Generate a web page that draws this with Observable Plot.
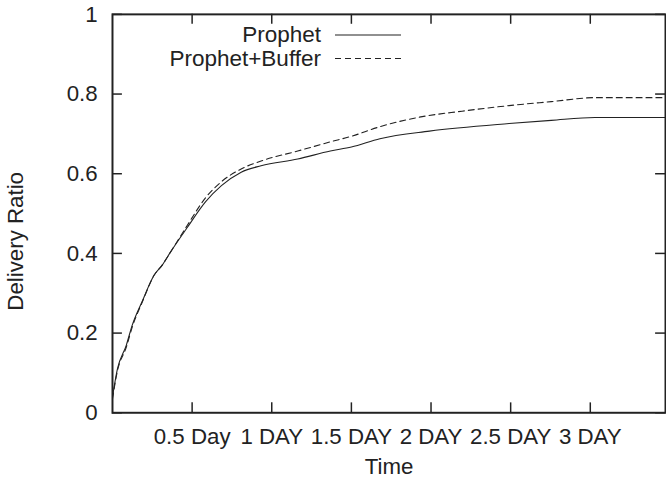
<!DOCTYPE html>
<html><head><meta charset="utf-8">
<script src="https://cdn.jsdelivr.net/npm/d3@7"></script>
<script src="https://cdn.jsdelivr.net/npm/@observablehq/plot@0.6"></script>
<style>
body{margin:0;background:#fff;}
#wrap{position:relative;width:666px;height:484px;overflow:hidden;font-family:"Liberation Sans",Arial,sans-serif;}
#legend{position:absolute;left:0;top:0;}
</style></head><body><div id="wrap"></div>
<script>
const seriesNames = ["Prophet", "Prophet+Buffer"];
const prophetDays  = [0, 0.031, 0.087, 0.124, 0.187, 0.261, 0.311, 0.367, 0.466, 0.585, 0.684, 0.808, 0.933, 1.163, 1.368, 1.5, 1.679, 1.99, 2.49, 2.755, 3.03, 3.472];
const prophetRatio = [0.04, 0.11, 0.17, 0.22, 0.28, 0.345, 0.37, 0.405, 0.463, 0.53, 0.57, 0.604, 0.62, 0.637, 0.657, 0.667, 0.688, 0.707, 0.726, 0.734, 0.741, 0.741];
const bufferDays   = [0, 0.031, 0.087, 0.124, 0.187, 0.261, 0.311, 0.367, 0.466, 0.585, 0.684, 0.808, 0.933, 1.163, 1.368, 1.5, 1.679, 1.927, 2.195, 2.49, 2.755, 3.03, 3.472];
const bufferRatio  = [0.035, 0.105, 0.165, 0.215, 0.278, 0.345, 0.37, 0.405, 0.468, 0.54, 0.58, 0.612, 0.632, 0.657, 0.68, 0.694, 0.718, 0.742, 0.757, 0.771, 0.781, 0.791, 0.791];
const xTickValues = [0.5, 1, 1.5, 2, 2.5, 3];
const xTickLabels = ["0.5 Day", "1 DAY", "1.5 DAY", "2 DAY", "2.5 DAY", "3 DAY"];
const yTickValues = [0, 0.2, 0.4, 0.6, 0.8, 1];
const yTickLabels = ["0", "0.2", "0.4", "0.6", "0.8", "1"];
const xMax = 300000 / 86400;

const prophet = prophetDays.map((d, i) => ({day: d, ratio: prophetRatio[i], series: seriesNames[0]}));
const buffer = bufferDays.map((d, i) => ({day: d, ratio: bufferRatio[i], series: seriesNames[1]}));

const ink = "#222";
const fs = 22.5;
const frameW = 672 - 113 - 1;
const frameH = 484 - 14 - 68;
const tl = 10;

const chart = Plot.plot({
  width: 672,
  height: 484,
  marginLeft: 113,
  marginRight: 1,
  marginTop: 14,
  marginBottom: 68,
  style: {fontFamily: '"Liberation Sans", Arial, sans-serif', fontSize: fs + "px", color: ink, background: "white"},
  x: {domain: [0, xMax]},
  y: {domain: [0, 1]},
  marks: [
    Plot.line(prophet, {x: "day", y: "ratio", stroke: ink, strokeWidth: 1.1, curve: "monotone-x"}),
    Plot.line(buffer, {x: "day", y: "ratio", stroke: ink, strokeWidth: 1.1, strokeDasharray: "6,4", curve: "monotone-x"}),
    Plot.tickX(xTickValues, {x: d => d, stroke: ink, strokeWidth: 1.5, insetTop: frameH - tl}),
    Plot.tickX(xTickValues, {x: d => d, stroke: ink, strokeWidth: 1.5, insetBottom: frameH - tl}),
    Plot.tickY(yTickValues, {y: d => d, stroke: ink, strokeWidth: 1.5, insetRight: frameW - tl}),
    Plot.tickY(yTickValues, {y: d => d, stroke: ink, strokeWidth: 1.5, insetLeft: frameW - tl}),
    Plot.frame({stroke: ink, strokeWidth: 2}),
    Plot.axisX({ticks: xTickValues, tickFormat: d => xTickLabels[xTickValues.indexOf(d)], tickSize: 0, tickPadding: 16, label: null, fill: ink, fontSize: fs}),
    Plot.axisY({ticks: yTickValues, tickFormat: d => yTickLabels[yTickValues.indexOf(d)], tickSize: 0, tickPadding: 15, label: null, fill: ink, fontSize: fs}),
    Plot.text(["Time"], {text: d => d, frameAnchor: "bottom", dy: 55, lineAnchor: "middle", textAnchor: "middle", fill: ink, fontSize: fs}),
    Plot.text(["Delivery Ratio"], {text: d => d, frameAnchor: "left", dx: -97, dy: 28, rotate: -90, lineAnchor: "middle", textAnchor: "middle", fill: ink, fontSize: fs})
  ]
});

const wrap = document.getElementById("wrap");
wrap.appendChild(chart);

// legend (top, inside the plot area)
const ns = "http://www.w3.org/2000/svg";
const leg = document.createElementNS(ns, "svg");
leg.setAttribute("id", "legend");
leg.setAttribute("width", 666);
leg.setAttribute("height", 80);
const legendStyles = [null, "6,4"];
seriesNames.forEach((name, i) => {
  const cy = 35 + i * 23.5;
  const t = document.createElementNS(ns, "text");
  t.setAttribute("x", 321);
  t.setAttribute("y", cy);
  t.setAttribute("dy", "0.32em");
  t.setAttribute("text-anchor", "end");
  t.setAttribute("font-size", fs);
  t.setAttribute("font-family", '"Liberation Sans", Arial, sans-serif');
  t.setAttribute("fill", ink);
  t.textContent = name;
  leg.appendChild(t);
  const l = document.createElementNS(ns, "line");
  l.setAttribute("x1", 335);
  l.setAttribute("x2", 401);
  l.setAttribute("y1", cy);
  l.setAttribute("y2", cy);
  l.setAttribute("stroke", ink);
  l.setAttribute("stroke-width", 1.1);
  if (legendStyles[i]) l.setAttribute("stroke-dasharray", legendStyles[i]);
  leg.appendChild(l);
});
wrap.appendChild(leg);
</script>
</body></html>
